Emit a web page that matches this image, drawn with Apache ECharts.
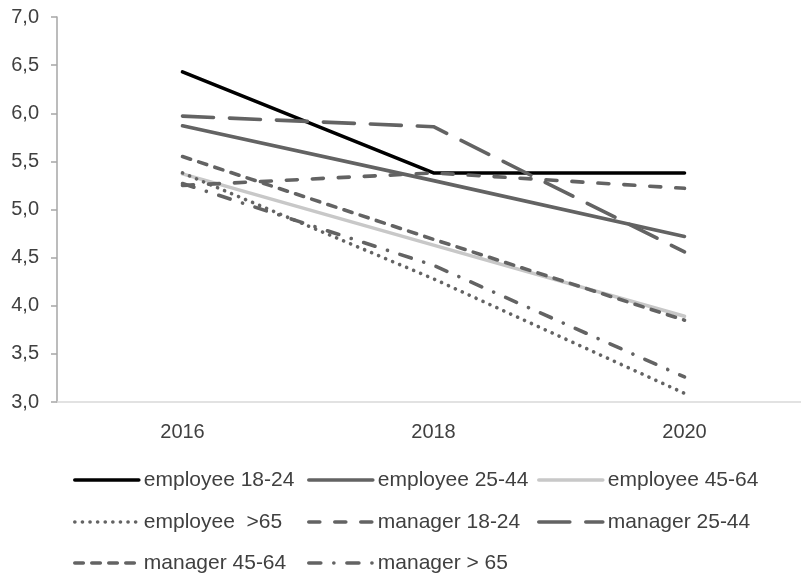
<!DOCTYPE html>
<html><head><meta charset="utf-8">
<script src="https://cdn.jsdelivr.net/npm/echarts@6/dist/echarts.min.js"></script>
<style>html,body{margin:0;padding:0;background:#fff}#c{width:801px;height:576px}</style>
</head><body><div id="c"></div>
<script>
const years = ['2016', '2018', '2020'];
const yTicks = { min: 3, max: 7, interval: 0.5 };
const emp1824 = [6.43, 5.38, 5.38];
const emp2544 = [5.87, 5.30, 4.72];
const emp4564 = [5.37, 4.63, 3.89];
const emp65 = [5.38, 4.28, 3.09];
const mgr1824 = [5.25, 5.38, 5.22];
const mgr2544 = [5.97, 5.86, 4.56];
const mgr4564 = [5.55, 4.69, 3.85];
const mgr65 = [5.27, 4.42, 3.26];

const names = ['employee 18-24','employee 25-44','employee 45-64','employee  >65','manager 18-24','manager 25-44','manager 45-64','manager > 65'];
const datas = [emp1824, emp2544, emp4564, emp65, mgr1824, mgr2544, mgr4564, mgr65];
const colors = ['#000000','#636363','#c8c8c8','#636363','#636363','#636363','#636363','#636363'];
const dashes = ['solid','solid','solid',[0.1,7.5],[11,15],[31,16],[8.5,8.5],[12,13,0.1,13]];

const series = names.map((n,i)=>({
  name:n, type:'line', data:datas[i], symbol:'none', showSymbol:false,
  lineStyle:{color:colors[i], width:3.6, type:dashes[i], cap:'round'},
  itemStyle:{color:colors[i]}
}));

const colLeft = [73, 307, 537];
const rowTop = [468, 510, 551];
const legends = names.map((n,i)=>({
  show:true, orient:'horizontal', left:colLeft[i%3], top:rowTop[Math.floor(i/3)],
  itemWidth:64, itemHeight:14, itemGap:0, padding:0,
  itemStyle:{opacity:0},
  lineStyle:{width:3.6},
  textStyle:{color:'#404040', fontSize:21, lineHeight:24, fontFamily:'Liberation Sans', padding:[0,0,0,0]},
  data:[n]
}));

const chart = echarts.init(document.getElementById('c'), null, {renderer:'canvas'});
chart.setOption({
  animation:false,
  backgroundColor:'#fff',
  grid:{left:57, width:753, top:17, height:385, containLabel:false, outerBoundsMode:'none'},
  xAxis:{type:'category', data:years, boundaryGap:true,
    axisLine:{show:true, lineStyle:{color:'#d9d9d9', width:1.5}},
    axisTick:{show:false},
    axisLabel:{color:'#404040', fontSize:20, margin:20, fontFamily:'Liberation Sans'},
    splitLine:{show:false}},
  yAxis:{type:'value', min:yTicks.min, max:yTicks.max, interval:yTicks.interval,
    axisLine:{show:true, lineStyle:{color:'#a6a6a6', width:1.5}},
    axisTick:{show:true, length:6, inside:false, lineStyle:{color:'#a6a6a6', width:1.5}},
    splitLine:{show:false},
    axisLabel:{color:'#404040', fontSize:20, margin:18, fontFamily:'Liberation Sans',
      formatter:v=>v.toFixed(1).replace('.',',')}},
  legend:legends,
  series:series
});
</script></body></html>
